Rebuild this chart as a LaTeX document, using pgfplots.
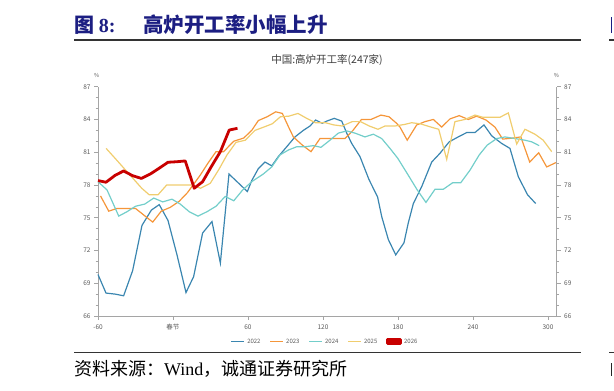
\documentclass[border=0pt]{standalone}
\usepackage{fontspec}
\usepackage{pgfplots}
\pgfplotsset{compat=1.18}
\setmainfont{Noto Sans CJK SC}
\newfontfamily\latinserif{Liberation Serif}
\definecolor{c22}{RGB}{58,134,176}
\definecolor{c23}{RGB}{245,150,58}
\definecolor{c24}{RGB}{115,206,202}
\definecolor{c25}{RGB}{240,205,110}
\definecolor{c26}{RGB}{200,0,0}
\definecolor{axgray}{RGB}{165,165,165}
\definecolor{lblgray}{RGB}{90,90,90}
\definecolor{navy}{RGB}{28,30,130}
\definecolor{ttlgray}{RGB}{60,60,60}
\begin{document}
\begin{tikzpicture}[x=1pt,y=1pt]
\useasboundingbox (0,0) rectangle (614,391);
\begin{axis}[
  at={(98pt,75pt)}, anchor=south west, scale only axis,
  width=458.7pt, height=229.3pt,
  xmin=-60, xmax=307, ymin=66, ymax=87,
  axis x line*=bottom, axis y line*=left,
  axis line style={-, draw=axgray, line width=0.8pt},
  tick style={draw=axgray, line width=0.6pt},
  tick align=outside, major tick length=4pt, minor tick length=2.5pt,
  ytick={66,69,...,87},
  minor ytick={67,68,70,71,73,74,76,77,79,80,82,83,85,86},
  xtick={-60,0,60,120,180,240,300},
  xticklabels={-60,春节,60,120,180,240,300},
  /pgf/number format/assume math mode=true,
  ticklabel style={font=\fontsize{6.5}{7}\selectfont, text=lblgray},
  xticklabel style={yshift=-1pt},
  clip=false,
  legend style={at={(0.495,-0.112)}, anchor=center, legend columns=5, draw=none, fill=none,
    font=\fontsize{6}{7}\selectfont, text=lblgray,
    /tikz/every even column/.append style={column sep=7pt}},
  legend image code/.code={\draw[#1, line width=1.6pt] (0pt,0pt) -- (13pt,0pt);},
]
\addplot[c22, line width=1.2pt] coordinates {
(-60,69.8) (-53.6,68.1) (-46,68.0) (-39.5,67.85) (-32.3,70.15) (-24.8,74.3) (-17.3,75.7) (-11,76.2) (-4,74.75) (3.2,71.6) (10.4,68.15) (16.5,69.6) (23.7,73.6) (31.2,74.65) (37.9,70.85) (44.8,79.0) (59.5,77.4) (63,78.4) (68.3,79.5) (73.6,80.1) (79,79.75) (84.3,80.6) (91,81.5) (97.6,82.4) (104.3,83.0) (109.6,83.4) (114.1,83.95) (119.4,83.65) (123,83.85) (129,84.1) (135,83.85) (139,82.75) (143,81.8) (149.6,80.6) (156.8,78.5) (163.7,76.9) (167,75.1) (172.3,73.0) (178.2,71.6) (184.8,72.7) (188.2,74.5) (192.3,76.3) (199,77.85) (207,80.1) (213.6,80.9) (221,81.95) (228.2,82.4) (235,82.8) (241.6,82.8) (248.8,83.5) (255,82.5) (263,81.8) (269.6,81.35) (276.3,78.75) (283.7,77.1) (290.2,76.3)
};
\addlegendentry{2022}
\addplot[c23, line width=1.2pt] coordinates {
(-58,77.0) (-51.4,75.6) (-44.8,75.85) (-38,75.85) (-30,75.85) (-23.4,75.25) (-16.2,74.6) (-9.4,75.6) (-2.2,75.95) (4.9,76.5) (11.6,77.3) (21.8,78.9) (28,80.0) (34.4,81.05) (40.5,81.05) (48.5,82.0) (56.6,82.3) (63,83.0) (68.3,83.9) (75.4,84.25) (82.2,84.7) (87.5,84.55) (92.3,83.35) (96.3,82.4) (103.5,81.65) (110.4,81.05) (117.6,82.25) (137.6,82.25) (144,83.0) (150.8,84.0) (158.4,84.0) (166.4,84.4) (172.8,84.25) (178.9,83.65) (181.6,83.3) (187.4,82.1) (195,83.5) (201.6,83.8) (208.3,84.0) (215,83.3) (221.6,84.05) (229,84.35) (236.3,84.0) (243,84.3) (250.4,83.95) (257.6,83.3) (263.8,82.2) (272.2,82.3) (278.3,82.4) (285.4,80.1) (292.6,80.95) (299,79.65) (306.4,80.05)
};
\addlegendentry{2023}
\addplot[c24, line width=1.2pt] coordinates {
(-60,78.3) (-52.8,77.55) (-43.4,75.15) (-36.8,75.55) (-30,76.05) (-22.6,76.25) (-15.4,76.8) (-8.2,76.45) (-0.8,76.7) (5.8,76.25) (13,75.55) (20,75.15) (27.2,75.55) (34.4,76.05) (41.8,76.95) (48.6,76.55) (55.8,77.55) (63,78.3) (72.2,79.0) (79,79.65) (85.6,80.75) (92.3,81.2) (99,81.5) (105.6,81.5) (112.3,81.6) (118.4,81.45) (125.6,82.1) (132.3,82.75) (139,82.95) (145.6,82.75) (153.6,82.4) (160.3,82.65) (167,82.25) (173.6,81.35) (179.8,80.45) (188.2,78.9) (195.4,77.55) (202.4,76.4) (209.6,77.6) (216.2,77.6) (223.7,78.2) (230.2,78.2) (237.6,79.35) (245,80.75) (251.4,81.65) (259,82.25) (265.6,82.4) (273.6,82.25) (281.6,82.1) (287,81.95) (293,81.6)
};
\addlegendentry{2024}
\addplot[c25, line width=1.2pt] coordinates {
(-53.5,81.35) (-46,80.4) (-39,79.5) (-32,78.6) (-25,77.7) (-19,77.1) (-12,77.1) (-5,78.0) (2,78.0) (9,78.0) (15,78.0) (22,77.7) (29.8,78.15) (36.6,79.4) (43.2,80.75) (50.4,81.9) (57.8,82.1) (65.6,83.0) (72.6,83.3) (79.4,83.6) (86,84.25) (92.6,84.3) (100,84.55) (107,84.1) (114,83.7) (122,83.7) (128.6,83.5) (135.4,83.4) (143.4,83.8) (150,83.8) (157,83.4) (164,83.1) (169.6,83.4) (177.6,83.4) (185.6,83.55) (190.9,83.7) (198,83.6) (205,83.35) (212.6,83.1) (219,80.35) (225.6,83.8) (233.6,84.0) (241.6,84.4) (248,84.2) (255,84.2) (261.6,84.2) (268.3,84.6) (275,81.75) (281.6,83.1) (289.6,82.65) (296.2,82.1) (303,81.05)
};
\addlegendentry{2025}
\addplot[c26, line width=2.8pt, line join=round,
  legend image code/.code={\fill[c26] (0pt,-2.2pt) rectangle (13pt,2.2pt);}] coordinates {
(-60,78.4) (-53.6,78.25) (-46.1,78.9) (-39.5,79.28) (-32.3,78.85) (-25.3,78.6) (-18.2,79.0) (-11.5,79.5) (-4,80.08) (3.2,80.13) (9.8,80.2) (17,77.7) (23.7,78.3) (30.6,79.67) (37.9,81.05) (45,83.03) (51.6,83.19)
};
\addlegendentry{2026}
\end{axis}
\begin{axis}[
  at={(98pt,75pt)}, anchor=south west, scale only axis,
  width=458.7pt, height=229.3pt,
  xmin=-60, xmax=307, ymin=66, ymax=87,
  hide x axis, axis y line*=right,
  axis line style={-, draw=axgray, line width=0.8pt},
  tick style={draw=axgray, line width=0.6pt},
  tick align=outside, major tick length=4pt, minor tick length=2.5pt,
  ytick={66,69,...,87},
  minor ytick={67,68,70,71,73,74,76,77,79,80,82,83,85,86},
  /pgf/number format/assume math mode=true,
  ticklabel style={font=\fontsize{6.5}{7}\selectfont, text=lblgray},
]
\end{axis}
% percent labels
\node[font=\fontsize{5.5}{6}\selectfont, text=lblgray] at (96.7,315.3) {\%};
\node[font=\fontsize{5.5}{6}\selectfont, text=lblgray] at (556.5,315.3) {\%};
% chart title
\node[font=\fontsize{10.5}{12}\selectfont, text=ttlgray] at (327,331) {中国:高炉开工率(247家)};
% figure caption
\node[anchor=west, inner sep=0pt, font=\fontsize{20}{22}\selectfont\bfseries, text=navy] at (74,366) {图 {\latinserif 8:}};
\node[anchor=west, inner sep=0pt, font=\fontsize{20.5}{22}\selectfont\bfseries, text=navy] at (143,366) {高炉开工率小幅上升};
\draw[line width=1.2pt, draw=black!80] (74,351) -- (581,351);
\draw[line width=1.2pt, draw=black!80] (609,351) -- (614,351);
\draw[line width=1.6pt, draw=navy] (611.5,358) -- (611.5,374);
% source
\draw[line width=1.2pt, draw=black!80] (74,38.3) -- (581,38.3);
\draw[line width=1.2pt, draw=black!80] (609,38.3) -- (614,38.3);
\node[anchor=west, inner sep=0pt, font=\fontsize{18}{20}\selectfont] at (74,22) {资料来源：{\latinserif Wind}，诚通证券研究所};
\draw[line width=1pt, draw=black!85] (611.5,15) -- (611.5,28);
\end{tikzpicture}
\end{document}
